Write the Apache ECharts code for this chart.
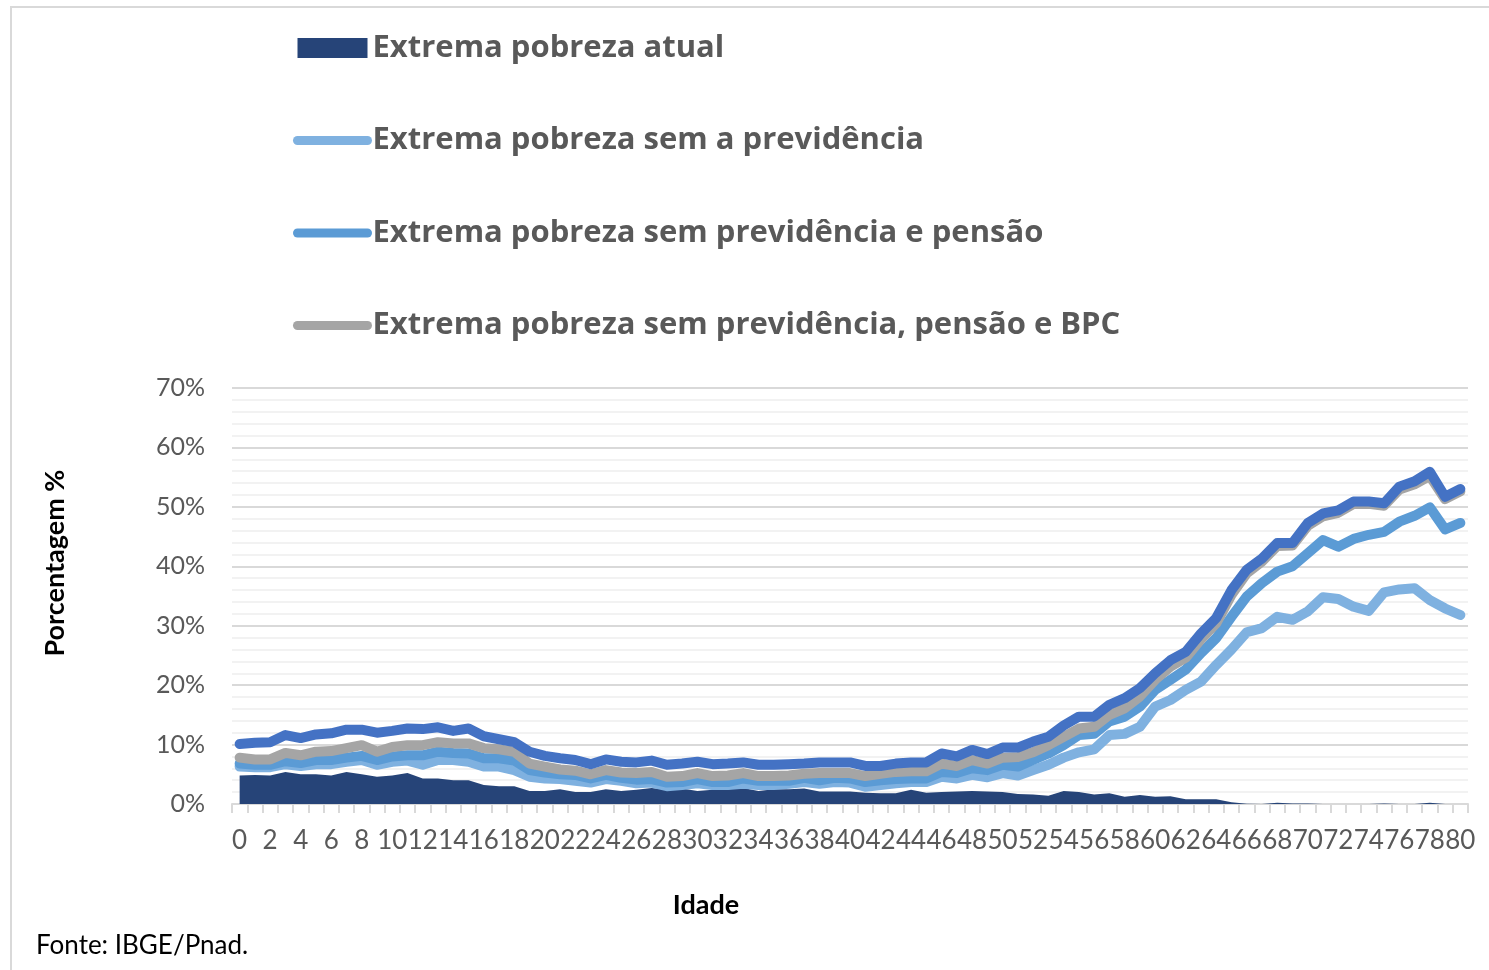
<!DOCTYPE html>
<html>
<head>
<meta charset="utf-8">
<script src="https://cdn.jsdelivr.net/npm/echarts@6.0.0/dist/echarts.min.js"></script>
<style>
html,body{margin:0;padding:0;background:#fff}
#chart{width:1489px;height:970px}
</style>
</head>
<body>
<div id="chart"></div>
<script>
// idades 0..80
var idades = []
for (var i = 0; i <= 80; i++) idades.push(String(i))

var nomes = [
    'Extrema pobreza atual',
    'Extrema pobreza sem a previdência',
    'Extrema pobreza sem previdência e pensão',
    'Extrema pobreza sem previdência, pensão e BPC',
    'Extrema pobreza sem transferências'
]

// valores em %
var atual = [4.8,4.9,4.8,5.4,5.0,5.0,4.8,5.4,5.0,4.6,4.8,5.2,4.3,4.3,4.0,4.0,3.2,3.0,3.0,2.2,
    2.2,2.5,2.0,2.0,2.5,2.2,2.4,2.7,2.4,2.6,2.2,2.4,2.5,2.7,2.2,2.5,2.5,2.6,2.1,2.1,
    2.1,1.9,1.8,1.8,2.4,1.9,2.0,2.1,2.2,2.1,2.0,1.7,1.6,1.4,2.2,2.0,1.6,1.8,1.2,1.5,
    1.2,1.3,0.8,0.8,0.8,0.3,0.05,0,0.2,0.1,0.1,0,0,0,0,0.1,0,0,0.2,0,0]
var semPrev = [6.3,6.2,6.2,6.7,6.4,6.7,6.7,7.1,7.4,6.6,7.1,7.3,6.6,7.4,7.4,7.1,6.3,6.3,5.7,4.6,
    4.3,4.2,3.9,3.6,4.2,3.9,3.5,3.6,3.0,3.2,3.5,3.2,3.2,3.4,3.2,3.2,3.4,3.7,3.4,3.7,
    3.6,2.9,3.2,3.5,3.7,3.7,4.6,4.3,4.9,4.5,5.2,4.8,5.7,6.6,7.8,8.7,9.2,11.6,11.8,13.0,
    16.4,17.5,19.2,20.6,23.4,26.0,28.9,29.6,31.5,31.0,32.4,34.8,34.5,33.2,32.5,35.6,36.1,36.3,34.3,32.9,31.8]
var semPrevPensao = [6.8,6.6,6.6,7.2,6.9,7.4,7.4,7.8,8.1,7.4,8.0,8.2,8.2,8.8,8.6,8.5,7.7,7.7,7.3,5.7,
    5.3,5.0,4.9,4.3,4.9,4.4,4.1,4.2,3.6,3.7,4.2,3.7,3.7,4.3,3.9,3.9,3.9,4.4,4.0,4.4,
    4.3,3.7,4.0,4.2,4.3,4.3,5.4,5.2,6.0,5.7,6.6,6.3,7.4,8.5,9.9,11.6,11.8,13.9,14.7,16.4,
    19.2,20.9,22.6,25.4,27.9,31.5,34.9,37.2,39.1,40.0,42.2,44.4,43.3,44.6,45.3,45.8,47.5,48.5,49.9,46.2,47.3]
var semPrevPensaoBpc = [7.8,7.5,7.5,8.6,8.2,8.8,8.9,9.4,9.9,8.8,9.6,9.9,9.9,10.4,10.2,10.2,9.4,9.2,8.8,6.8,
    6.3,5.8,5.6,5.0,5.7,5.3,5.2,5.4,4.6,4.7,5.2,4.7,4.8,5.2,4.7,4.7,4.8,5.1,5.2,5.2,
    5.2,4.7,5.1,5.4,5.5,5.5,6.8,6.4,7.4,6.8,7.8,7.9,8.7,9.9,11.3,12.7,13.0,15.0,16.1,18.1,
    20.9,23.1,24.6,27.7,30.4,35.2,38.8,40.8,43.4,43.5,46.8,48.4,49.0,50.5,50.5,50.2,52.9,53.8,55.2,51.3,52.6]
var semTransf = [10.1,10.3,10.4,11.6,11.1,11.7,11.9,12.5,12.5,12.0,12.3,12.7,12.6,12.9,12.3,12.7,11.4,10.9,10.4,8.8,
    8.1,7.7,7.4,6.7,7.5,7.1,7.0,7.3,6.6,6.8,7.1,6.7,6.8,7.0,6.6,6.6,6.7,6.8,7.0,7.0,
    7.0,6.4,6.4,6.8,7.0,7.0,8.5,8.0,9.1,8.4,9.5,9.5,10.5,11.3,13.2,14.7,14.7,16.7,17.8,19.5,
    22.0,24.2,25.6,28.7,31.3,36.0,39.4,41.3,43.9,43.9,47.3,48.9,49.4,50.9,50.9,50.6,53.4,54.3,55.9,51.7,53.0]

var cores = ['#264478', '#7FB1E0', '#5B9BD5', '#A5A5A5', '#4472C4']
var fonte = 'Lato, "Open Sans", sans-serif'
var fonteLegenda = '"Open Sans", Lato, sans-serif'

var linha = (nome, dados, cor) => ({
    name: nome, type: 'line', data: dados, symbol: 'none', color: cor,
    lineStyle: {width: 10, color: cor, cap: 'round', join: 'round'}
})
var itemLinha = nome => ({name: nome, itemStyle: {opacity: 0}})

var mychart = echarts.init(document.getElementById('chart'))
mychart.setOption({
    animation: false,
    backgroundColor: '#fff',
    grid: {left: 232, right: 21, top: 388, bottom: 166},
    legend: {
        orient: 'vertical', left: 288, top: 25, padding: 5,
        itemWidth: 70, itemHeight: 20, itemGap: 56.5, itemTextGap: 7,
        lineStyle: {width: 9, cap: 'round'},
        textStyle: {fontFamily: fonteLegenda, fontSize: 31, fontWeight: 'bold', color: '#595959', lineHeight: 36},
        data: [{name: nomes[0], icon: 'rect'}, itemLinha(nomes[1]), itemLinha(nomes[2]), itemLinha(nomes[3])]
    },
    xAxis: {
        type: 'category', data: idades, boundaryGap: true,
        axisLine: {lineStyle: {color: '#d9d9d9', width: 2}},
        axisTick: {show: true, interval: 0, length: 9, lineStyle: {color: '#d9d9d9', width: 2}},
        axisLabel: {interval: 1, margin: 24, fontFamily: fonte, fontSize: 26, color: '#595959'},
        splitLine: {show: false}
    },
    yAxis: {
        type: 'value', min: 0, max: 70, interval: 10,
        axisLine: {show: false}, axisTick: {show: false},
        axisLabel: {formatter: '{value}%', margin: 27, fontFamily: fonte, fontSize: 25, color: '#595959'},
        splitLine: {lineStyle: {color: '#d9d9d9', width: 2}},
        minorTick: {show: false, splitNumber: 5},
        minorSplitLine: {show: true, lineStyle: {color: '#f2f2f2', width: 2}}
    },
    graphic: [
        {type: 'rect', shape: {x: 11, y: 7, width: 1500, height: 1000}, style: {fill: 'none', stroke: '#d9d9d9', lineWidth: 2}, silent: true},
        {type: 'text', x: 55, y: 563, rotation: Math.PI / 2,
            style: {text: 'Porcentagem %', fontFamily: fonte, fontSize: 27, fontWeight: 'bold', fill: '#000', align: 'center', verticalAlign: 'middle'}},
        {type: 'text', x: 706, y: 905,
            style: {text: 'Idade', fontFamily: fonte, fontSize: 27, fontWeight: 'bold', fill: '#000', align: 'center', verticalAlign: 'middle'}},
        {type: 'text', x: 36, y: 946,
            style: {text: 'Fonte: IBGE/Pnad.', fontFamily: fonte, fontSize: 26, fill: '#000', align: 'left', verticalAlign: 'middle'}}
    ],
    series: [
        {name: nomes[0], type: 'line', data: atual, symbol: 'none', color: cores[0],
            lineStyle: {width: 0}, areaStyle: {color: cores[0], opacity: 1}},
        linha(nomes[1], semPrev, cores[1]),
        linha(nomes[2], semPrevPensao, cores[2]),
        linha(nomes[3], semPrevPensaoBpc, cores[3]),
        linha(nomes[4], semTransf, cores[4])
    ]
})
</script>
</body>
</html>
